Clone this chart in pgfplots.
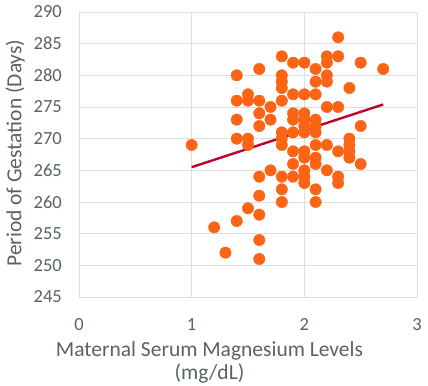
\documentclass[border=0pt]{standalone}
\usepackage{pgfplots}
\pgfplotsset{compat=1.18}
\usepackage{fontspec}
\setmainfont{Carlito}
\definecolor{txt}{RGB}{89,99,99}
\definecolor{grd}{RGB}{217,222,222}
\definecolor{dot}{RGB}{250,100,20}
\definecolor{trend}{RGB}{192,0,40}
\begin{document}
\begin{tikzpicture}
\begin{axis}[
  scale only axis, width=338pt, height=285pt,
  xmin=0, xmax=3, ymin=245, ymax=290,
  xtick={0,1,2,3}, ytick={245,250,...,290},
  grid=major, major grid style={grd, line width=0.8pt},
  axis line style={draw=none},
  major tick length=0pt,
  /pgf/number format/assume math mode=true,
  ticklabel style={font=\fontsize{18.5}{20}\selectfont, text=txt},
  yticklabel style={anchor=east, inner sep=0pt, xshift=-17pt},
  xticklabel style={anchor=north, inner sep=0pt, yshift=-21pt},
  xlabel={Maternal Serum Magnesium Levels\\(mg/dL)},
  xlabel style={at={(rel axis cs:0.386,-0.1544)}, anchor=north, inner sep=0pt, align=center, font=\fontsize{21.5}{23.5}\selectfont, text=txt},
  ylabel={Period of Gestation (Days)},
  ylabel style={at={(rel axis cs:-0.1598,0.505)}, anchor=south, inner sep=0pt, font=\fontsize{21.5}{23.5}\selectfont, text=txt},
]
\addplot[only marks, color=dot, mark=*, mark size=5.7pt, mark options={fill=dot, draw=dot, line width=0.4pt}] table {
x y
1.0 269
1.2 256
1.3 252
1.4 280
1.4 276
1.4 273
1.4 270
1.4 257
1.5 277
1.5 276
1.5 270
1.5 269
1.5 259
1.6 281
1.6 276
1.6 274
1.6 272
1.6 264
1.6 261
1.6 258
1.6 254
1.6 251
1.7 275
1.7 273
1.7 265
1.8 283
1.8 280
1.8 279
1.8 278
1.8 276
1.8 271
1.8 270
1.8 269
1.8 264
1.8 262
1.8 260
1.9 282
1.9 277
1.9 274
1.9 273
1.9 271
1.9 268
1.9 266
1.9 264
2.0 282
2.0 277
2.0 274
2.0 273
2.0 272
2.0 271
2.0 268
2.0 267
2.0 265
2.0 264
2.0 263
2.1 281
2.1 279
2.1 277
2.1 273
2.1 272
2.1 271
2.1 269
2.1 267
2.1 266
2.1 262
2.1 260
2.2 283
2.2 282
2.2 280
2.2 279
2.2 275
2.2 269
2.2 265
2.3 286
2.3 283
2.3 275
2.3 268
2.3 264
2.3 263
2.4 278
2.4 270
2.4 269
2.4 268
2.4 267
2.5 282
2.5 272
2.5 266
2.7 281
};
\addplot[trend, line width=2.4pt] coordinates {(1.0,265.5) (2.7,275.4)};
\coordinate (bbA) at (rel axis cs:-0.2337,-0.3088);
\coordinate (bbB) at (rel axis cs:1.0325,1.0421);
\end{axis}
\pgfresetboundingbox
\path (bbA) rectangle (bbB);
\end{tikzpicture}
\end{document}
